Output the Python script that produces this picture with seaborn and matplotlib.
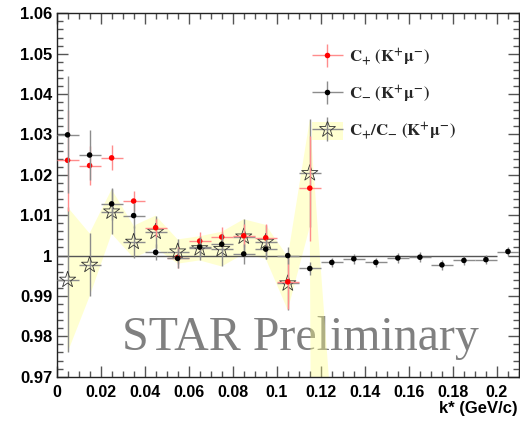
import numpy as np
import pandas as pd
import matplotlib
matplotlib.use("Agg")
import matplotlib.pyplot as plt
import seaborn as sns
from matplotlib.lines import Line2D
from matplotlib.patches import Patch
from matplotlib.container import ErrorbarContainer
from matplotlib.legend_handler import HandlerErrorbar, HandlerTuple
from matplotlib.ticker import MultipleLocator, FuncFormatter

# k* bin centres (GeV/c), bin width 0.01
kstar = [0.005, 0.015, 0.025, 0.035, 0.045, 0.055, 0.065, 0.075, 0.085, 0.095,
         0.105, 0.115, 0.125, 0.135, 0.145, 0.155, 0.165, 0.175, 0.185, 0.195, 0.205]
bin_half = 0.005

# C+ (K+ mu-)
c_plus = [1.0236, 1.0223, 1.0242, 1.0135, 1.0069, 0.9995, 1.0036, 1.0046, 1.0049,
          1.0044, 0.9935, 1.0167]
c_plus_err = [0.0125, 0.0048, 0.0031, 0.0025, 0.0022, 0.0025, 0.0023, 0.0025, 0.0029,
              0.0035, 0.0068, 0.0130]

# C- (K+ mu-)
c_minus = [1.0299, 1.0249, 1.0128, 1.0099, 1.0008, 0.9993, 1.0021, 1.0028, 1.0004,
           1.0016, 1.0000, 0.9968, 0.9983, 0.9992, 0.9983, 0.9994, 0.9996, 0.9977,
           0.9988, 0.9990, 1.0010]
c_minus_err = [0.0145, 0.0062, 0.0040, 0.0030, 0.0020, 0.0025, 0.0025, 0.0025, 0.0025,
               0.0025, 0.0020, 0.0015, 0.0012, 0.0012, 0.0012, 0.0012, 0.0012, 0.0012,
               0.0012, 0.0012, 0.0012]

# C+/C- ratio with its uncertainty (drawn as band)
ratio = [0.9940, 0.9977, 1.0109, 1.0034, 1.0059, 1.0010, 1.0018, 1.0016, 1.0047,
         1.0034, 0.9931, 1.0204, 0.4800]
ratio_err = [0.0180, 0.0078, 0.0055, 0.0040, 0.0040, 0.0030, 0.0030, 0.0043, 0.0043,
             0.0042, 0.0066, 0.0133, 0.4800]

x_ticks = [0, 0.02, 0.04, 0.06, 0.08, 0.1, 0.12, 0.14, 0.16, 0.18, 0.2]
y_ticks = [0.97, 0.98, 0.99, 1.0, 1.01, 1.02, 1.03, 1.04, 1.05, 1.06]

sns.set_theme(style="ticks")
plt.rcParams["font.family"] = ["Liberation Sans", "DejaVu Sans"]
plt.rcParams["mathtext.fontset"] = "stix"

df_p = pd.DataFrame({"k": kstar[:len(c_plus)], "c": c_plus, "e": c_plus_err})
df_m = pd.DataFrame({"k": kstar, "c": c_minus, "e": c_minus_err})
df_r = pd.DataFrame({"k": kstar[:len(ratio)], "r": ratio, "e": ratio_err})

fig = plt.figure(figsize=(5.2, 4.21), dpi=100)
ax = fig.add_axes([0.1088, 0.1052, 0.8892, 0.8632])
ax.set_facecolor("white")

# watermark
ax.text(0.1414, 0.0735, "STAR Preliminary", transform=ax.transAxes,
        fontfamily="Liberation Serif", fontsize=34.5, color="#808080",
        ha="left", va="baseline", zorder=1)

# ratio uncertainty band
band_col = "#ffff88"
ax.fill_between(df_r["k"], df_r["r"] - df_r["e"], df_r["r"] + df_r["e"],
                color=band_col, alpha=0.38, lw=0, zorder=2)

ax.hlines(1.0, 0, 0.2, color="#555555", lw=1.0, zorder=3)

# ratio points
h_ratio = ax.errorbar(df_r["k"], df_r["r"], yerr=df_r["e"], xerr=bin_half,
                      fmt="none", ecolor="#8c8c8c", elinewidth=1.0, zorder=4)
sns.scatterplot(data=df_r, x="k", y="r", ax=ax, marker="*", s=150,
                facecolor="none", edgecolor="#333333", linewidth=0.6, zorder=5)

# C+ points
h_plus = ax.errorbar(df_p["k"], df_p["c"], yerr=df_p["e"], xerr=bin_half,
                     fmt="none", ecolor="#ff8c8c", elinewidth=1.0, zorder=6)
sns.scatterplot(data=df_p, x="k", y="c", ax=ax, color="#ff0000", s=16,
                edgecolor="none", zorder=7)

# C- points
h_minus = ax.errorbar(df_m["k"], df_m["c"], yerr=df_m["e"], xerr=bin_half,
                      fmt="none", ecolor="#8c8c8c", elinewidth=1.0, zorder=8)
sns.scatterplot(data=df_m, x="k", y="c", ax=ax, color="#000000", s=16,
                edgecolor="none", zorder=9)

ax.set_xlim(0, 0.21)
ax.set_ylim(0.97, 1.06)
ax.set_xticks(x_ticks)
ax.set_yticks(y_ticks)
ax.xaxis.set_minor_locator(MultipleLocator(0.005))
ax.yaxis.set_minor_locator(MultipleLocator(0.002))
fmt = FuncFormatter(lambda v, p: f"{v:g}")
ax.xaxis.set_major_formatter(fmt)
ax.yaxis.set_major_formatter(fmt)
ax.tick_params(which="both", direction="in", top=True, right=True,
               color="#555555", width=1.0)
ax.tick_params(which="major", length=8)
ax.tick_params(which="minor", length=4)
ax.tick_params(axis="y", labelsize=12, pad=3)
ax.tick_params(axis="x", labelsize=11.5, pad=6)
for lab in ax.get_xticklabels() + ax.get_yticklabels():
    lab.set_fontweight("bold")
    lab.set_color("black")
for sp in ax.spines.values():
    sp.set_color("#222222")
    sp.set_linewidth(1.0)
ax.set_xlabel("")
ax.set_ylabel("")

fig.text(0.996, 0.019, "k* (GeV/c)", ha="right", va="baseline",
         fontsize=12, fontweight="bold", color="black")

# legend
dot_red = Line2D([], [], ls="none", marker="o", ms=4, color="#ff0000", mec="none")
dot_blk = Line2D([], [], ls="none", marker="o", ms=4, color="#000000", mec="none")
star_px = Line2D([], [], ls="none", marker="*", ms=12, mfc="none", mec="#333333", mew=0.6)
band_px = Patch(facecolor=band_col, alpha=0.38, edgecolor="none")
labels = [r"$\mathbf{C_{+}\ (K^{+}\mu^{-})}$",
          r"$\mathbf{C_{-}\ (K^{+}\mu^{-})}$",
          r"$\mathbf{C_{+}/C_{-}\ (K^{+}\mu^{-})}$"]
leg = ax.legend(handles=[(h_plus, dot_red), (h_minus, dot_blk), (band_px, h_ratio, star_px)],
                labels=labels,
                handler_map={ErrorbarContainer: HandlerErrorbar(xerr_size=0.92, yerr_size=0.7),
                             tuple: HandlerTuple(ndivide=1, pad=0)},
                loc="upper left", bbox_to_anchor=((312 - 56.6) / 462.4, (376.7 - 47) / 363.4),
                frameon=False, fontsize=12, handlelength=1.85, handleheight=1.35,
                handletextpad=0.4, labelspacing=0.95, borderpad=0, borderaxespad=0)

fig.savefig("out.png", dpi=100)
